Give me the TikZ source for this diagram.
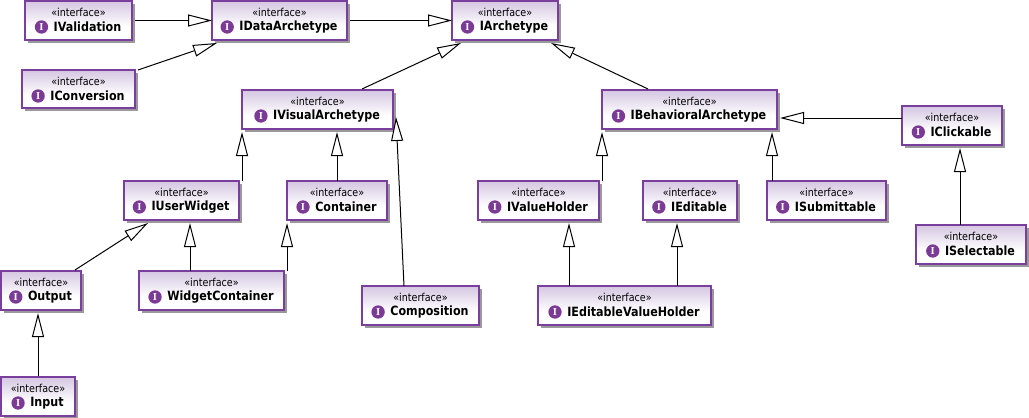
\documentclass[tikz,border=0pt]{standalone}
\usepackage{fontspec}
\setmainfont{Liberation Sans}
\newfontfamily\umlnamefont[FakeStretch=0.875]{DejaVu Sans}
\newfontfamily\umliconfont{Liberation Serif}
\usetikzlibrary{arrows.meta,shadows}
\definecolor{umlborder}{HTML}{7A3F9D}
\definecolor{umltop}{HTML}{B59BCB}
\definecolor{umlicon}{HTML}{7B3A96}
\pgfdeclareverticalshading{umlfade}{100bp}{color(0bp)=(white); color(42bp)=(white); color(100bp)=(umltop)}
\tikzset{
  umlbox/.style={rectangle,draw=umlborder,line width=0.95pt,shading=umlfade,inner sep=0pt,outer sep=0pt,
    drop shadow={shadow xshift=2pt,shadow yshift=-2pt,fill=black!40,opacity=1}},
  stereo/.style={inner sep=0pt,font=\umlnamefont\fontsize{8.2}{10}\selectfont},
  ifname/.style={inner sep=0pt,font=\umlnamefont\fontsize{9.55}{12}\selectfont\bfseries},
  ifglyph/.style={circle,fill=umlicon,text=white,inner sep=0pt,minimum size=10pt,font=\umliconfont\fontsize{8}{8}\selectfont\bfseries},
  gen/.style={draw=black,line width=0.75pt,-{Triangle[open,length=18pt,width=9pt,fill=white]}}
}
% id, left, top, right, bottom, name
\newcommand{\iface}[6]{%
  \pgfmathsetmacro{\cxx}{(#2+#4)/2}%
  \pgfmathsetmacro{\ww}{(#4-#2)*0.75}%
  \pgfmathsetmacro{\hh}{(#5-#3)*0.75}%
  \node[umlbox,minimum width=\ww pt,minimum height=\hh pt] (#1) at ({\cxx},{(#3+#5)/2}) {};
  \node[stereo] (#1s) at ({\cxx},{#3+11.5}) {«interface»};
  \node[ifname] (#1n) at ({\cxx+9},{#3+26}) {#6};
  \node[ifglyph,anchor=east] (#1i) at ([xshift=-3.8pt]#1n.west) {I};
}
\newcommand{\conn}[4]{\draw[gen] ([shift={(#2)}]#1) -- ([shift={(#4)}]#3);}
\begin{document}
\begin{tikzpicture}[x=0.75pt,y=-0.75pt]
\useasboundingbox (0,0) rectangle (1029,418);
\iface{val}{25}{1}{132}{40}{IValidation}
\iface{dat}{212}{1}{347}{40}{IDataArchetype}
\iface{con}{22}{70}{135}{108}{IConversion}
\iface{arc}{452}{1}{558}{40}{IArchetype}
\iface{vis}{242}{90}{393}{129}{IVisualArchetype}
\iface{beh}{602}{90}{777}{129}{IBehavioralArchetype}
\iface{clk}{902}{106}{1002}{145}{IClickable}
\iface{usr}{124}{181}{239}{220}{IUserWidget}
\iface{cnt}{287}{181}{387}{220}{Container}
\iface{hol}{478}{181}{599}{220}{IValueHolder}
\iface{edt}{643}{181}{737}{220}{IEditable}
\iface{sub}{767}{181}{886}{220}{ISubmittable}
\iface{sel}{916}{225}{1026}{264}{ISelectable}
\iface{out}{1}{271}{81}{310}{Output}
\iface{wid}{139}{271}{284}{310}{WidgetContainer}
\iface{cmp}{362}{286}{479}{325}{Composition}
\iface{evh}{538}{286}{711}{325}{IEditableValueHolder}
\iface{inp}{1}{377}{75}{416}{Input}
\conn{val.east}{3,0}{dat.west}{0,0}
\conn{con.north east}{3,0}{dat.south west}{5,3}
\conn{dat.east}{3,0}{arc.west}{0,0}
\conn{vis.north}{44.5,-1}{arc.south west}{9,3}
\conn{beh.north west}{46,-1}{arc.south east}{-7,3}
\conn{clk.west}{0,-7.5}{beh.east}{3,8.5}
\conn{usr.north east}{3,0}{vis.south west}{0,3}
\conn{cnt.north}{0,0}{vis.south west}{95,3}
\conn{cmp.north west}{42,0}{vis.south east}{3,-12}
\conn{out.north east}{-6,-1}{usr.south west}{24,3}
\conn{wid.north west}{51,0}{usr.south west}{66,3}
\conn{wid.north east}{3,0}{cnt.south west}{0,3}
\conn{inp.north west}{37,-1}{out.south west}{37,3}
\conn{hol.north east}{3,0}{beh.south west}{0,3}
\conn{sub.north west}{5,0}{beh.south east}{-5,3}
\conn{evh.north west}{31,0}{hol.south west}{91,3}
\conn{evh.north east}{-34,0}{edt.south west}{34,3}
\conn{sel.north west}{44,0}{clk.south west}{58,3}
\end{tikzpicture}
\end{document}
